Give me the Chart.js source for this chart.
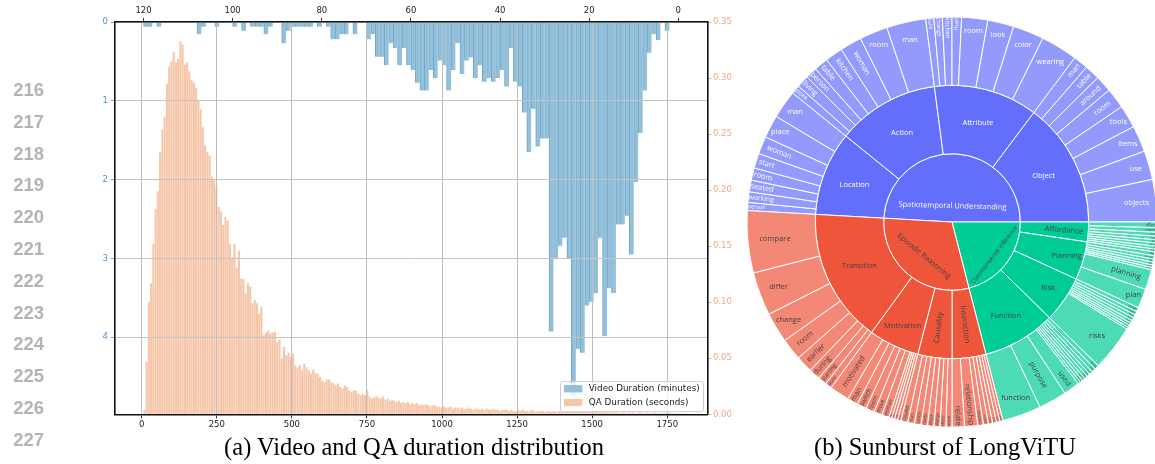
<!DOCTYPE html>
<html>
<head>
<meta charset="utf-8">
<script src="https://cdn.jsdelivr.net/npm/chart.js@4.4.1/dist/chart.umd.min.js"></script>
<style>
html, body { margin: 0; padding: 0; background: #fff; }
body { width: 1155px; height: 464px; overflow: hidden; position: relative; }
#hist { position: absolute; left: 0; top: 0; }
#sun { position: absolute; left: 742px; top: 12px; }
.ln { position: absolute; left: 0; width: 44px; text-align: right; font: bold 18.5px "Liberation Sans", Arial, sans-serif; line-height: 20px; color: #b4b4b4; }
.cap { position: absolute; width: 600px; text-align: center; font: 24.5px "Liberation Serif", "Times New Roman", serif; line-height: 28px; color: #000; white-space: nowrap; }
</style>
</head>
<body>
<canvas id="hist" width="745" height="440"></canvas>
<canvas id="sun" width="420" height="420"></canvas>
<div id="lines"></div>
<div class="cap" style="left:114px; top:433px">(a) Video and QA duration distribution</div>
<div class="cap" style="left:645px; top:433px">(b) Sunburst of LongViTU</div>
<script>
// ---- histogram data ----
// QA duration density, 7.5 s bins starting at 5 s
const qaBinStart = 5;
const qaBinWidth = 7.5;
const qaDensity = [
  0.004, 0.047, 0.100, 0.117, 0.152, 0.183, 0.199, 0.234,
  0.254, 0.265, 0.295, 0.310, 0.315, 0.323, 0.314, 0.317, 0.333, 0.330, 0.312, 0.314,
  0.306, 0.298, 0.296, 0.291, 0.280, 0.272, 0.256,
  0.240, 0.234, 0.231, 0.212, 0.210, 0.204, 0.185, 0.181, 0.169, 0.176, 0.173, 0.152,
  0.140, 0.152, 0.131, 0.146,
  0.121, 0.121, 0.108, 0.117, 0.114, 0.099, 0.102, 0.099, 0.090, 0.096,
  0.0705, 0.073, 0.075, 0.072, 0.073, 0.0735, 0.0646, 0.067, 0.0497, 0.060,
  0.0527, 0.055, 0.0512, 0.054, 0.0437, 0.042, 0.0437, 0.0393, 0.045, 0.042,
  0.0393, 0.0363, 0.040, 0.037, 0.036, 0.0333, 0.030, 0.0289, 0.031, 0.031,
  0.0289, 0.0274, 0.026, 0.0274, 0.0244, 0.023, 0.026, 0.0244, 0.0214, 0.020,
  0.0214, 0.021, 0.018, 0.017, 0.018, 0.017, 0.0214, 0.016, 0.014, 0.015,
  0.016, 0.015, 0.014, 0.016, 0.013, 0.014, 0.012, 0.013, 0.012, 0.011, 0.012, 0.010, 0.011,
  0.010, 0.011, 0.009, 0.010, 0.009, 0.010, 0.008, 0.009, 0.008, 0.009, 0.008, 0.007, 0.008, 0.008, 0.007,
  0.007, 0.006, 0.007, 0.006, 0.006, 0.007, 0.005, 0.006, 0.006, 0.005,
  0.006, 0.005, 0.005, 0.006, 0.005, 0.004, 0.005, 0.005, 0.004, 0.005,
  0.004, 0.005, 0.004, 0.004, 0.005, 0.004, 0.004, 0.003, 0.004, 0.004,
  0.004, 0.003, 0.004, 0.003, 0.003, 0.004, 0.003, 0.004, 0.003, 0.003,
  0.003, 0.004, 0.003, 0.002, 0.003, 0.003, 0.003, 0.002, 0.003, 0.003,
  0.002, 0.003, 0.002, 0.003, 0.002, 0.002, 0.003, 0.002, 0.002, 0.003,
  0.002, 0.002, 0.002, 0.003, 0.002, 0.002, 0.002, 0.002, 0.002, 0.002,
  0.002, 0.0015, 0.002, 0.0015, 0.002, 0.0015, 0.0015, 0.002, 0.0015, 0.0015,
  0.001, 0.0015, 0.0015, 0.001, 0.0015, 0.001, 0.0015, 0.001, 0.001, 0.0015,
  0.001, 0.001, 0.0015, 0.001, 0.001, 0.001, 0.0015, 0.001, 0.001, 0.001,
  0.001, 0.0015, 0.001, 0.001, 0.001, 0.001, 0.001, 0.001
];
// video duration, 1 minute bins starting at minute 2
const videoBinStart = 2;
const videoCounts = [
  0.11, 0, 0.23, 0.156, 0.39, 0.87, 1.41, 2.03, 2.95,
  2.46, 2.57, 2.57, 3.44, 3.38, 3.99, 2.74, 3.44, 3.55, 3.6,
  4.2, 4.15, 4.75, 3.0, 2.74, 2.84, 3.0, 3.93, 1.48, 1.48,
  1.58, 1.10, 1.65, 1.15, 0.82, 0.76, 0.33, 0.82, 0.61, 0.71,
  0.76, 0.71, 0.76, 0.55, 0.71, 0.45, 0.49, 0.66, 0.27, 0.61,
  0.87, 0.55, 0.49, 0.71, 0.61, 0.87, 0.87, 0.77, 0.61, 0.55,
  0.33, 0.55, 0.33, 0.27, 0.55, 0.44, 0.44, 0.156, 0.22, 0,
  0, 0.156, 0, 0.156, 0.156, 0.22, 0.22, 0.06, 0, 0.06,
  0, 0.06, 0.06, 0.06, 0.06, 0.06, 0.11, 0.27, 0, 0,
  0.06, 0.156, 0.06, 0.06, 0.06, 0, 0.11, 0, 0.06, 0,
  0, 0, 0.06, 0, 0, 0.06, 0.156, 0, 0, 0,
  0, 0, 0, 0, 0, 0.06, 0, 0.06, 0.06, 0
];
const secondTicks = [0, 250, 500, 750, 1000, 1250, 1500, 1750];
const minuteTicks = [0, 20, 40, 60, 80, 100, 120];
const countTicks = [0, 1, 2, 3, 4];
const densityTicks = [0, 0.05, 0.10, 0.15, 0.20, 0.25, 0.30, 0.35];
const lineNumbers = [216, 217, 218, 219, 220, 221, 222, 223, 224, 225, 226, 227, 228];

const BLUE = '#94c0da';
const ORANGE = '#f6c6a9';
const tickFont = { family: 'DejaVu Sans', size: 8.5 };

// line numbers on the margin
const lines = document.getElementById('lines');
lineNumbers.forEach((n, i) => {
    const d = document.createElement('div');
    d.className = 'ln';
    d.style.top = (80 + i * 31.8) + 'px';
    d.textContent = n;
    lines.appendChild(d);
});

const qaPoints = qaDensity.map((v, i) => ({ x: qaBinStart + (i + 0.5) * qaBinWidth, y: v }));
const videoPoints = videoCounts.map((v, i) => ({ x: videoBinStart + i + 0.5, y: v }));

const fixTicks = (values) => (scale) => { scale.ticks = values.map(v => ({ value: v })); };

const histLegend = {
    id: 'histLegend',
    afterDraw(chart) {
        const { ctx, chartArea: a } = chart;
        const w = 143, h = 30;
        const x = a.right - 4 - w, y = a.bottom - 2.6 - h;
        ctx.save();
        ctx.beginPath();
        ctx.roundRect(x, y, w, h, 2);
        ctx.fillStyle = 'rgba(255,255,255,0.8)';
        ctx.fill();
        ctx.strokeStyle = '#cccccc';
        ctx.lineWidth = 1;
        ctx.stroke();
        ctx.font = '8.8px "DejaVu Sans"';
        ctx.textBaseline = 'middle';
        chart.data.datasets.forEach((ds, i) => {
            const cy = y + 7 + i * 13.8;
            ctx.fillStyle = ds.backgroundColor;
            ctx.fillRect(x + 3.5, cy - 3.6, 18.3, 7.3);
            ctx.fillStyle = '#222';
            ctx.fillText(ds.label, x + 28.3, cy);
        });
        ctx.restore();
    }
};

new Chart(document.getElementById('hist'), {
    type: 'bar',
    data: {
        datasets: [
            {
                label: 'Video Duration (minutes)',
                data: videoPoints,
                xAxisID: 'xTop',
                yAxisID: 'yLeft',
                backgroundColor: BLUE,
                borderColor: '#6ca6cc',
                borderWidth: { left: 1, right: 0, top: 0, bottom: 0 },
                borderSkipped: false,
                grouped: false,
                barPercentage: 1,
                categoryPercentage: 1
            },
            {
                label: 'QA Duration (seconds)',
                data: qaPoints,
                xAxisID: 'xBottom',
                yAxisID: 'yRight',
                backgroundColor: ORANGE,
                borderWidth: 0,
                grouped: false,
                barPercentage: 0.92,
                categoryPercentage: 1
            }
        ]
    },
    options: {
        responsive: false,
        devicePixelRatio: 1,
        animation: false,
        events: [],
        layout: { padding: 0 },
        plugins: { legend: { display: false }, tooltip: { enabled: false } },
        scales: {
            xBottom: {
                type: 'linear', position: 'bottom', min: -89, max: 1884, offset: false,
                afterBuildTicks: fixTicks(secondTicks),
                afterFit: (s) => { s.height = 25.7; },
                ticks: { font: tickFont, color: '#222', padding: 1.6, maxRotation: 0, autoSkip: false, callback: v => String(v) },
                grid: { offset: false, color: '#bdbdbd', lineWidth: 1, z: 1, tickLength: 4, tickColor: '#333' },
                border: { color: '#111', width: 1.6, z: 2 }
            },
            xTop: {
                type: 'linear', position: 'top', reverse: true, min: -6.55, max: 126.4, offset: false,
                afterBuildTicks: fixTicks(minuteTicks),
                afterFit: (s) => { s.height = 22; },
                ticks: { font: tickFont, color: '#222', padding: 1.9, maxRotation: 0, autoSkip: false, callback: v => String(v) },
                grid: { offset: false, drawOnChartArea: false, z: 1, tickLength: 4, tickColor: '#333' },
                border: { color: '#111', width: 1.6, z: 2 }
            },
            yLeft: {
                type: 'linear', position: 'left', reverse: true, min: 0, max: 4.98,
                afterBuildTicks: fixTicks(countTicks),
                afterFit: (s) => { s.width = 115; },
                ticks: { font: tickFont, color: '#4d95c8', padding: 3, autoSkip: false, callback: v => String(v) },
                grid: { color: '#c4c4c4', lineWidth: 1, z: 1, tickLength: 4, tickColor: '#6fa6cf' },
                border: { color: '#111', width: 1.6, z: 2 }
            },
            yRight: {
                type: 'linear', position: 'right', min: 0, max: 0.35,
                afterBuildTicks: fixTicks(densityTicks),
                afterFit: (s) => { s.width = 37.5; },
                ticks: { font: tickFont, color: '#f2a97f', padding: 1.5, autoSkip: false, callback: v => v.toFixed(2) },
                grid: { drawOnChartArea: false, z: 1, tickLength: 4, tickColor: '#f2b08a' },
                border: { color: '#111', width: 1.6, z: 2 }
            }
        }
    },
    plugins: [histLegend]
});

// ---- sunburst data (slice sizes as shares of the full turn) ----
const rootLabels = ['Spatiotemporal Understanding', 'Commonsense Inference', 'Episodic Reasoning'];
const rootShares = [176.8, 75.6, 107.6];
const rootColors = ['#636efa', '#00cc96', '#ef553b'];
const rootTextColors = ['#ffffff', '#444444', '#444444'];

const branchLabels = ['Location', 'Action', 'Attribute', 'Object',
    'Affordance', 'Planning', 'Risk', 'Function',
    'Interaction', 'Causality', 'Motivation', 'Transition'];
const branchShares = [35.8, 43.6, 44.2, 53.2, 8.4, 16.3, 19.8, 31.1, 14.4, 14.5, 21.6, 57.1];
const branchRoot = [0, 0, 0, 0, 1, 1, 1, 1, 2, 2, 2, 2];

const leafLabels = [
    ['person', 'working', 'seated', 'room', 'start', 'woman', 'place', 'man'],
    ['store', 'living', 'person', 'table', 'kitchen', 'woman', 'room', 'man'],
    ['ture', 'change', 'kitchen', 'man', 'room', 'look', 'color', 'wearing'],
    ['man', 'table', 'around', 'room', 'tools', 'items', 'use', 'objects'],
    ['afford', 'support', 'allow', 'hold', 'grip', 'open', 'sit', 'carry'],
    ['next', 'prepare', 'steps', 'goal', 'order', 'task', 'planning', 'plan'],
    ['danger', 'hazard', 'safety', 'harm', 'injury', 'avoid', 'careful', 'unsafe', 'risks'],
    ['serve', 'role', 'tool', 'work', 'help', 'operate', 'device', 'useful', 'used', 'purpose', 'function'],
    ['touch', 'hold', 'talk', 'help', 'reach', 'respond', 'relationship', 'relate'],
    ['result', 'effect', 'change', 'affect', 'made', 'lunch', 'man', 'caused'],
    ['want', 'need', 'seen', 'help', 'woman', 'move', 'room', 'switch', 'man', 'motivated'],
    ['store', 'starting', 'during', 'earlier', 'room', 'change', 'differ', 'compare']
];
const leafShares = [
    [2.3, 3.0, 3.3, 3.5, 4.2, 5.0, 6.5, 8.0],
    [2.5, 3.5, 3.3, 4.0, 5.0, 6.2, 8.0, 11.1],
    [2.3, 2.4, 2.7, 2.7, 7.4, 7.4, 8.8, 10.5],
    [4.2, 4.3, 4.7, 5.8, 6.5, 7.5, 8.2, 12.0],
    [1.6, 1.3, 1.1, 1.0, 0.9, 0.9, 0.8, 0.8],
    [1.1, 0.95, 0.85, 0.8, 0.7, 0.7, 5.7, 5.5],
    [1.2, 1.0, 0.9, 0.9, 0.8, 0.7, 0.7, 0.6, 13.0],
    [1.3, 1.1, 1.0, 0.9, 0.9, 0.8, 0.8, 0.7, 4.6, 8.0, 11.0],
    [0.9, 1.0, 1.1, 1.2, 1.4, 1.6, 3.7, 3.5],
    [1.7, 1.7, 1.7, 1.8, 1.8, 1.9, 1.9, 2.0],
    [0.9, 0.9, 0.8, 0.8, 2.1, 2.3, 2.5, 2.7, 3.0, 5.6],
    [1.9, 2.5, 3.2, 4.8, 6.2, 8.6, 12.3, 17.6]
];

function leafColor(hex) {
    // leaf opacity 0.7 over white
    const n = parseInt(hex.slice(1), 16);
    const c = [n >> 16, (n >> 8) & 255, n & 255].map(v => Math.round(v * 0.7 + 255 * 0.3));
    return 'rgb(' + c.join(',') + ')';
}

const leafNames = [], leafValues = [], leafFill = [], leafInk = [];
leafLabels.forEach((list, b) => {
    list.forEach((name, j) => {
        leafNames.push(name);
        leafValues.push(leafShares[b][j]);
        leafFill.push(leafColor(rootColors[branchRoot[b]]));
        leafInk.push(rootTextColors[branchRoot[b]]);
    });
});

const BASE_FONT = 7.5;
const TEXTPAD = 1.9;

function maxHalfSize(a, half, r, ring) {
    const q = a + 1 / (2 * Math.tan(half));
    return r * Math.min(1 / (Math.sqrt(q * q + 0.5) + q), ring / (Math.sqrt(a * a + ring / 2) + a));
}

// same choice as an auto-oriented sunburst: horizontal if it fits, else the biggest of radial/tangential
function placeText(w, h, r0, r1, half) {
    const ring = (r1 - r0) / r1;
    const rIns = Math.min(1 / (1 + 1 / Math.sin(half)), ring / 2);
    const hz = { scale: rIns * r1 * 2 / Math.hypot(w, h), rc: 1 - rIns, turn: null };
    if (hz.scale >= 1) return hz;
    const rr = Math.max(0, r1 - 2 * TEXTPAD);
    let a = w / h;
    let s = maxHalfSize(a, half, rr, ring);
    const rad = { scale: s * 2 / h, rc: Math.cos(s / rr) - a * s / rr, turn: 0 };
    a = h / w;
    s = maxHalfSize(a, half, rr, ring);
    const tan = { scale: s * 2 / w, rc: Math.cos(s / rr) - a * s / rr, turn: Math.PI / 2 };
    return [hz, rad, tan].reduce((best, c) => (c.scale > best.scale ? c : best));
}

const sunLabels = {
    id: 'sunLabels',
    afterDatasetsDraw(chart) {
        const ctx = chart.ctx;
        ctx.save();
        ctx.textAlign = 'center';
        ctx.textBaseline = 'middle';
        chart.data.datasets.forEach((ds, di) => {
            chart.getDatasetMeta(di).data.forEach((arc, i) => {
                const p = arc.getProps(['x', 'y', 'startAngle', 'endAngle', 'innerRadius', 'outerRadius'], true);
                const text = ds.names[i];
                ctx.font = BASE_FONT + 'px "Open Sans"';
                const w = ctx.measureText(text).width;
                const h = BASE_FONT * 1.36;
                const half = (p.endAngle - p.startAngle) / 2;
                const mid = p.startAngle + half;
                const t = placeText(w, h, p.innerRadius, p.outerRadius, half);
                const size = BASE_FONT * Math.min(1, t.scale);
                if (size < 1.2) return;
                let rot = 0;
                if (t.turn !== null) {
                    let deg = (mid + t.turn) * 180 / Math.PI;
                    deg = ((deg % 180) + 180 + 90) % 180 - 90;
                    rot = deg * Math.PI / 180;
                }
                const rc = t.rc * p.outerRadius;
                ctx.save();
                ctx.translate(p.x + rc * Math.cos(mid), p.y + rc * Math.sin(mid));
                ctx.rotate(rot);
                ctx.font = size + 'px "Open Sans"';
                ctx.fillStyle = ds.ink[i];
                ctx.fillText(text, 0, 0);
                ctx.restore();
            });
        });
        ctx.restore();
    }
};

new Chart(document.getElementById('sun'), {
    type: 'doughnut',
    data: {
        datasets: [
            { data: leafValues, names: leafNames, ink: leafInk, backgroundColor: leafFill },
            { data: branchShares, names: branchLabels, ink: branchRoot.map(r => rootTextColors[r]), backgroundColor: branchRoot.map(r => rootColors[r]) },
            { data: rootShares, names: rootLabels, ink: rootTextColors, backgroundColor: rootColors }
        ]
    },
    options: {
        responsive: false,
        devicePixelRatio: 1,
        animation: false,
        events: [],
        cutout: 0,
        radius: 205,
        rotation: 273.2,
        layout: { padding: 0 },
        elements: { arc: { borderColor: '#ffffff', borderWidth: 1 } },
        plugins: { legend: { display: false }, tooltip: { enabled: false } }
    },
    plugins: [sunLabels]
});
</script>
</body>
</html>
